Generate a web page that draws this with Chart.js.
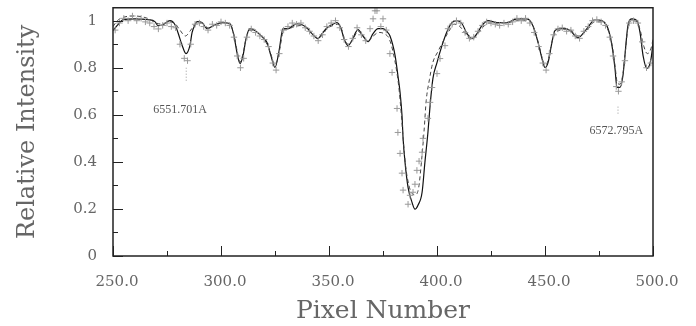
<!DOCTYPE html>
<html>
<head>
<meta charset="utf-8">
<script src="https://cdn.jsdelivr.net/npm/chart.js@4.4.1/dist/chart.umd.min.js"></script>
<style>
  html, body { margin: 0; padding: 0; background: #fff; }
</style>
</head>
<body>
<canvas id="myChart" width="696" height="326"></canvas>
<script>
// Tick positions
const xTicks = [250, 300, 350, 400, 450, 500];
const xMinorTicks = [275, 325, 375, 425, 475];
const yTicks = [0, 0.2, 0.4, 0.6, 0.8, 1];
const yMinorTicks = [0.1, 0.3, 0.5, 0.7, 0.9];

// Solid fit [pixel, intensity]
const solidFit = [
  [250.0, .958], [252.3, .983], [254.6, 1.004], [260.2, 1.008], [266.2, 1.004], [269.4, .996],
  [270.8, .979], [273.1, .983], [276.4, 1.0], [278.7, .983], [280.1, .949], [281.9, .898],
  [283.8, .860], [285.6, .894], [286.6, .949], [288.0, .983], [288.9, .996], [291.2, .992],
  [293.5, .966], [297.2, .983], [300.5, .992], [304.2, .987], [306.0, .936], [307.4, .864],
  [308.8, .818], [310.2, .852], [311.6, .924], [313.4, .966], [315.7, .958], [319.0, .932],
  [321.3, .907], [323.1, .852], [325.0, .801], [326.9, .873], [328.7, .966], [331.0, .966],
  [333.3, .979], [335.2, .987], [337.5, .983], [339.8, .970], [342.1, .945], [344.9, .924],
  [346.8, .945], [349.1, .970], [351.4, .983], [353.7, .992], [355.6, .966], [356.9, .924],
  [358.8, .894], [360.6, .915], [363.4, .962], [365.7, .936], [368.1, .911], [370.4, .945],
  [372.7, .966], [375.0, .966], [376.9, .953], [378.2, .936], [380.6, .852], [381.9, .767],
  [382.9, .695], [383.8, .597], [384.3, .500], [385.2, .398], [386.6, .292], [388.4, .229],
  [389.8, .199], [391.2, .216], [393.1, .271], [394.4, .398], [395.8, .525], [396.8, .640],
  [398.1, .754], [400.0, .822], [402.3, .894], [404.6, .953], [406.9, .992], [409.3, 1.0],
  [411.6, .987], [413.9, .945], [416.2, .924], [418.5, .945], [420.8, .979], [423.6, 1.0],
  [427.8, .992], [432.4, .992], [437.0, 1.008], [441.7, 1.008], [444.4, .979], [446.8, .907],
  [448.6, .839], [450.0, .801], [451.4, .822], [453.2, .907], [454.6, .958], [456.9, .966],
  [459.3, .966], [461.6, .958], [465.3, .928], [469.4, .966], [473.1, 1.004], [476.4, 1.0],
  [479.2, .966], [481.0, .894], [482.4, .797], [483.3, .716], [484.7, .716], [486.1, .767],
  [487.0, .852], [488.4, .979], [490.3, 1.008], [492.6, 1.0], [494.0, .949], [495.4, .852],
  [497.2, .797], [499.1, .839], [500.0, .907]
];

// Dashed fit [pixel, intensity]
const dashedFit = [
  [250, .975], [252, 1.0], [255, 1.015], [260, 1.02], [266, 1.01], [270, .99], [273, .985],
  [276, .995], [279, .985], [281, .96], [283.5, .935], [286, .96], [288.5, .99], [291, .99],
  [293.5, .97], [297, .98], [300.5, .99], [304, .985], [306, .94], [307.5, .87], [308.8, .825],
  [310.2, .86], [311.6, .925], [313.4, .96], [316, .955], [319, .93], [321, .905], [323, .86],
  [325, .81], [327, .87], [329, .96], [331, .965], [334, .975], [337.5, .98], [340, .965],
  [342, .945], [345, .925], [347, .94], [349, .965], [352, .98], [354, .985], [356, .96],
  [357, .925], [359, .9], [361, .92], [363.5, .955], [366, .93], [368, .915], [370.5, .935],
  [373, .95], [375.5, .945], [378, .92], [380.5, .83], [382.3, .72], [383.5, .6], [384.5, .48],
  [385.5, .38], [387, .3], [388.5, .265], [390, .26], [391.5, .29], [392.8, .4], [394, .53],
  [395, .66], [396.5, .75], [398, .82], [400.5, .87], [403, .915], [405.5, .955], [408, .985],
  [410, .98], [412, .96], [414, .935], [416.2, .92], [418.5, .94], [421, .97], [424, .99],
  [428, .99], [432, .99], [437, 1.0], [442, 1.0], [444.5, .975], [446.8, .91], [448.6, .845],
  [450, .81], [451.4, .83], [453.2, .91], [455, .95], [457, .96], [460, .965], [462, .96],
  [465.5, .935], [469.5, .96], [473, .995], [476.5, .995], [479, .965], [481, .9], [482.4, .81],
  [483.5, .735], [484.7, .73], [486, .77], [487, .85], [488.4, .97], [490.3, 1.0], [492.6, .995],
  [494.2, .955], [495.8, .89], [497.4, .86], [499, .88], [500, .92]
];

// Observed points [pixel, intensity]
const observed = [
  [251, .96], [253, .99], [255, 1.01], [257, 1.0], [259, 1.02], [261, 1.0], [263, 1.01],
  [265, .995], [267, .99], [269, .975], [271, .965], [273, .98], [275, .99], [277, .975],
  [279, .97], [281, .9], [283, .84], [284.5, .83], [286, .9], [288, .985], [290, .99],
  [292, .975], [294, .96], [296, .985], [298, .98], [300, .995], [302, .99], [304, .98],
  [306, .93], [307.5, .85], [309, .8], [310.5, .84], [312, .93], [314, .965], [316, .95],
  [318, .935], [320, .92], [322, .89], [324, .82], [325.5, .79], [327, .86], [329, .96],
  [331, .975], [333, .99], [335, .985], [337, .99], [339, .97], [341, .955], [343, .935],
  [345, .915], [347, .94], [349, .975], [351, .99], [353, 1.0], [355, .97], [357, .92],
  [359, .89], [361, .925], [363, .97], [365, .94], [367, .915], [369, .966], [370.4, 1.008],
  [371.3, 1.042], [372.2, 1.042], [374, .975], [375, 1.008], [376.5, .96], [378.2, .86],
  [379.2, .78], [381.5, .627], [381.9, .525], [382.9, .436], [383.8, .352], [384.3, .28],
  [386.6, .22], [387.5, .258], [388.9, .271], [389.8, .305], [390.7, .364], [391.7, .403],
  [393.1, .441], [393.5, .5], [395.8, .585], [396.8, .653], [397.7, .716], [400, .775],
  [401.4, .839], [403.7, .894], [405.1, .966], [407, .985], [409, 1.0], [411, .99], [413, .95],
  [415, .925], [417, .93], [419, .955], [421, .98], [423, .995], [425, .99], [427, .985],
  [429, .98], [431, .99], [433, .985], [435, .995], [437, 1.01], [439, 1.0], [441, 1.01],
  [443, .99], [445, .95], [447, .89], [449, .82], [450.5, .79], [452, .86], [454, .94],
  [456, .965], [458, .97], [460, .955], [462, .96], [464, .935], [466, .925], [468, .955],
  [470, .975], [472, 1.0], [474, 1.005], [476, .995], [478, .98], [480, .93], [481.5, .85],
  [483, .72], [484, .7], [485.5, .74], [487, .83], [489, .99], [491, 1.0], [493, .99],
  [495, .91], [497, .8], [499, .82]
];

// Line identification marks and labels
const idMarks = [
  [[283.9, .745], [283.9, .80]],
  [[483.8, .605], [483.8, .64]]
];
const lineLabels = ['6551.701A', '6572.795A'];
const lineLabelPos = [[281, .62], [483, .53]];

const toXY = arr => arr.map(p => ({ x: p[0], y: p[1] }));
const serif = '"DejaVu Serif", serif';
const textColor = '#666';

// Inward ticks, frame and line labels
const frameTicks = {
  id: 'frameTicks',
  afterDatasetsDraw(chart) {
    const { ctx, chartArea: a, scales: { x, y } } = chart;
    ctx.save();
    ctx.strokeStyle = '#222';
    ctx.lineWidth = 1;
    ctx.beginPath();
    yTicks.forEach(v => { const p = Math.round(y.getPixelForValue(v)) + 0.5; ctx.moveTo(a.left, p); ctx.lineTo(a.left + 10, p); });
    yMinorTicks.forEach(v => { const p = Math.round(y.getPixelForValue(v)) + 0.5; ctx.moveTo(a.left, p); ctx.lineTo(a.left + 5, p); });
    xTicks.forEach(v => { const p = Math.round(x.getPixelForValue(v)) + 0.5; ctx.moveTo(p, a.bottom); ctx.lineTo(p, a.bottom - 10); });
    xMinorTicks.forEach(v => { const p = Math.round(x.getPixelForValue(v)) + 0.5; ctx.moveTo(p, a.bottom); ctx.lineTo(p, a.bottom - 5); });
    ctx.stroke();
    ctx.lineWidth = 1.5;
    ctx.strokeRect(a.left, a.top, a.right - a.left, a.bottom - a.top);
    ctx.font = '12px "Liberation Serif", serif';
    ctx.fillStyle = '#555';
    ctx.textAlign = 'center';
    ctx.textBaseline = 'middle';
    lineLabels.forEach((t, i) => {
      ctx.fillText(t, x.getPixelForValue(lineLabelPos[i][0]), y.getPixelForValue(lineLabelPos[i][1]));
    });
    ctx.restore();
  }
};

const hiddenTicks = { display: true, drawOnChartArea: false, drawTicks: true, tickColor: 'rgba(0,0,0,0)' };

const ctx = document.getElementById('myChart').getContext('2d');
const chart = new Chart(ctx, {
  type: 'scatter',
  data: {
    datasets: [
      {
        label: 'Observed',
        data: toXY(observed),
        pointStyle: 'cross',
        pointRadius: 3.2,
        pointBorderWidth: 1,
        borderColor: '#999',
        backgroundColor: '#999',
        showLine: false
      },
      {
        label: 'Dashed fit',
        data: toXY(dashedFit),
        showLine: true,
        borderColor: '#444',
        borderWidth: 1,
        borderDash: [4, 3],
        pointRadius: 0,
        cubicInterpolationMode: 'monotone'
      },
      {
        label: 'Solid fit',
        data: toXY(solidFit),
        showLine: true,
        borderColor: '#111',
        borderWidth: 1.2,
        pointRadius: 0,
        cubicInterpolationMode: 'monotone'
      },
      ...idMarks.map(m => ({
        label: 'mark',
        data: toXY(m),
        showLine: true,
        borderColor: '#999',
        borderWidth: 1,
        borderDash: [1, 2],
        pointRadius: 0
      }))
    ]
  },
  options: {
    responsive: false,
    animation: false,
    layout: { padding: { top: 7, right: 43, left: 0, bottom: 0 } },
    plugins: {
      legend: { display: false },
      tooltip: { enabled: false }
    },
    scales: {
      x: {
        type: 'linear',
        min: 250,
        max: 500,
        afterBuildTicks: s => { s.ticks = xTicks.map(v => ({ value: v })); },
        afterFit: s => { s.height = 70; },
        grid: { ...hiddenTicks, tickLength: 8 },
        border: { display: false },
        ticks: {
          callback: v => v.toFixed(1),
          font: { family: serif, size: 15 },
          color: textColor,
          maxRotation: 0,
          labelOffset: 4,
          padding: 9
        },
        title: {
          display: true,
          text: 'Pixel Number',
          font: { family: serif, size: 25 },
          color: textColor,
          padding: { top: 0, bottom: 0 }
        }
      },
      y: {
        min: 0,
        max: 1.055,
        afterBuildTicks: s => { s.ticks = yTicks.map(v => ({ value: v })); },
        afterFit: s => { s.width = 113; },
        grid: { ...hiddenTicks, tickLength: 15 },
        border: { display: false },
        ticks: {
          callback: v => String(v),
          font: { family: serif, size: 15, lineHeight: 0.9 },
          color: textColor,
          padding: 1
        },
        title: {
          display: true,
          text: 'Relative Intensity',
          font: { family: serif, size: 24 },
          color: textColor,
          padding: { top: 13, bottom: 0 }
        }
      }
    }
  },
  plugins: [frameTicks]
});
</script>
</body>
</html>
